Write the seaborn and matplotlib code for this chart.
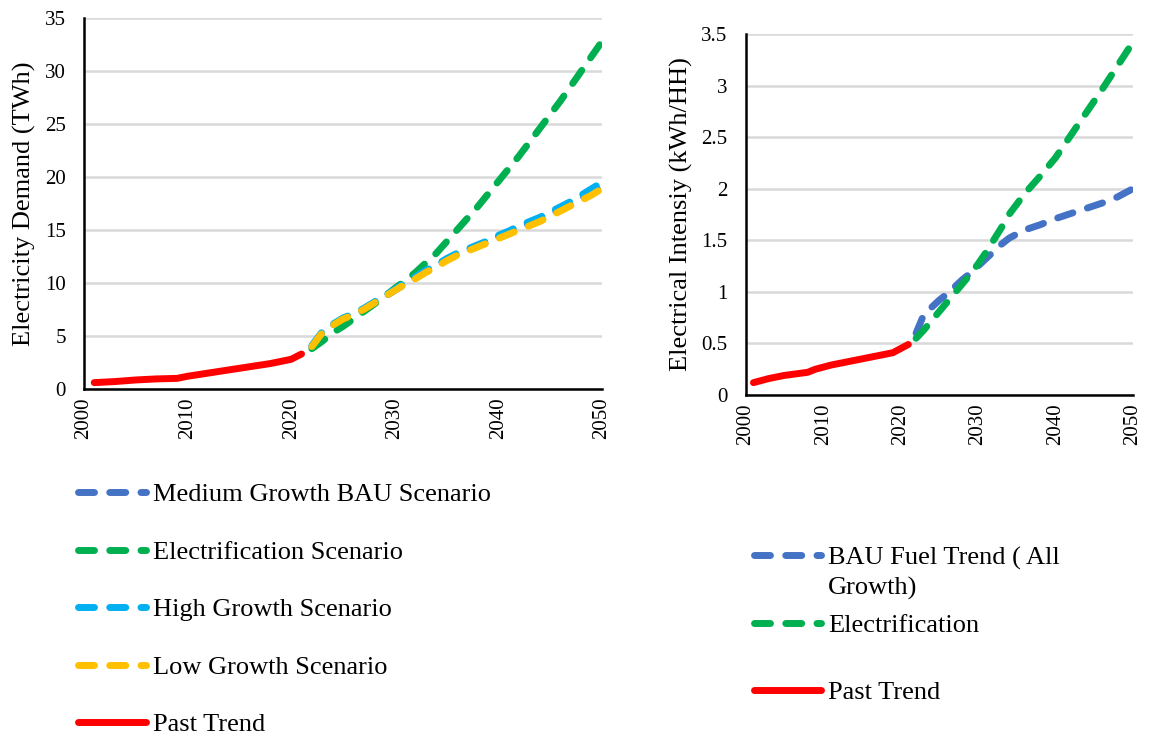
import numpy as np
import pandas as pd
import matplotlib
matplotlib.use("Agg")
import matplotlib.pyplot as plt
from matplotlib.legend_handler import HandlerLine2D
import seaborn as sns

# ---- Electricity demand (TWh) ----
past_years = [2001, 2003, 2005, 2007, 2009, 2010, 2012, 2014, 2016, 2018, 2020, 2021]
past_demand = [0.6, 0.7, 0.85, 0.95, 1.0, 1.2, 1.5, 1.8, 2.1, 2.4, 2.8, 3.3]

scen_years = [2022, 2023, 2024, 2025, 2026, 2027, 2028, 2029, 2030, 2031, 2032,
              2033, 2034, 2035, 2036, 2037, 2038, 2039, 2040, 2041, 2042, 2043,
              2044, 2045, 2046, 2047, 2048, 2049, 2050]
medium_bau = [4.0, 5.3, 6.0, 6.6, 7.0, 7.5, 8.1, 8.7, 9.3, 9.9, 10.5, 11.1,
              11.6, 12.2, 12.7, 13.1, 13.5, 13.9, 14.4, 14.8, 15.2, 15.6,
              16.0, 16.5, 17.0, 17.5, 18.0, 18.5, 19.1]
electrification = [3.8, 4.5, 5.3, 5.9, 6.6, 7.3, 8.0, 8.7, 9.5, 10.2, 11.0,
                   11.9, 12.8, 13.9, 15.0, 16.1, 17.2, 18.4, 19.6, 20.8, 22.0,
                   23.3, 24.6, 25.9, 27.2, 28.6, 30.0, 31.4, 32.8]
high_growth = [4.1, 5.4, 6.1, 6.7, 7.1, 7.6, 8.2, 8.8, 9.4, 10.0, 10.6, 11.2,
               11.7, 12.3, 12.8, 13.2, 13.6, 14.0, 14.5, 14.9, 15.4, 15.8,
               16.2, 16.7, 17.2, 17.7, 18.3, 18.9, 19.5]
low_growth = [4.0, 5.3, 6.0, 6.6, 7.0, 7.5, 8.1, 8.7, 9.3, 9.9, 10.4, 11.0,
              11.5, 12.1, 12.6, 13.0, 13.4, 13.8, 14.2, 14.6, 15.0, 15.4,
              15.8, 16.3, 16.8, 17.3, 17.8, 18.3, 18.9]

# ---- Electrical intensity (kWh/HH) ----
past_int_years = [2001, 2003, 2005, 2007, 2008, 2009, 2011, 2013, 2015, 2017, 2019, 2020, 2021]
past_intensity = [0.12, 0.16, 0.19, 0.21, 0.22, 0.25, 0.29, 0.32, 0.35, 0.38, 0.41, 0.45, 0.49]

int_years = [2022, 2023, 2024, 2025, 2026, 2027, 2028, 2029, 2030, 2031, 2032,
             2033, 2034, 2035, 2036, 2038, 2040, 2042, 2044, 2046, 2048, 2050]
bau_fuel = [0.6, 0.78, 0.85, 0.92, 0.98, 1.05, 1.12, 1.18, 1.25, 1.32, 1.39,
            1.46, 1.52, 1.56, 1.6, 1.65, 1.71, 1.76, 1.81, 1.86, 1.92, 2.0]
elec_intensity = [0.55, 0.63, 0.72, 0.81, 0.9, 0.99, 1.08, 1.17, 1.27, 1.38, 1.5,
                  1.62, 1.75, 1.85, 1.95, 2.12, 2.3, 2.52, 2.74, 2.96, 3.19, 3.42]

BLUE = "#4472C4"
GREEN = "#00B050"
CYAN = "#00B0F0"
YELLOW = "#FFC000"
RED = "#FF0000"

sns.set_theme(style="white")
plt.rcParams["font.family"] = ["Liberation Serif", "DejaVu Serif"]
plt.rcParams["text.color"] = "black"

LW = 5.0
DASH = (0, (2.3, 2.2))

fig = plt.figure(figsize=(11.49, 7.36), dpi=100)
ax1 = fig.add_axes([0.073, 0.4715, 0.451, 0.504])
ax2 = fig.add_axes([0.649, 0.4633, 0.337, 0.4905])


def dashed(ax, x, y, color, label):
    df = pd.DataFrame({"year": x, "value": y})
    sns.lineplot(data=df, x="year", y="value", ax=ax, color=color, linewidth=LW,
                 linestyle=DASH, dash_capstyle="round", label=label, legend=False)


def solid(ax, x, y, color, label):
    df = pd.DataFrame({"year": x, "value": y})
    sns.lineplot(data=df, x="year", y="value", ax=ax, color=color, linewidth=LW,
                 solid_capstyle="round", label=label, legend=False)


class HandlerFirstLine(HandlerLine2D):
    """Line handler that lifts the sample up to sit beside the first text line."""

    def __init__(self, lift, **kw):
        super().__init__(**kw)
        self.lift = lift

    def create_artists(self, legend, orig_handle, xdescent, ydescent, width,
                       height, fontsize, trans):
        artists = super().create_artists(legend, orig_handle, xdescent, ydescent,
                                         width, height, fontsize, trans)
        for a in artists:
            a.set_ydata(np.asarray(a.get_ydata(), dtype=float) + self.lift)
        return artists


dashed(ax1, scen_years, medium_bau, BLUE, "Medium Growth BAU Scenario")
dashed(ax1, scen_years, electrification, GREEN, "Electrification Scenario")
dashed(ax1, scen_years, high_growth, CYAN, "High Growth Scenario")
dashed(ax1, scen_years, low_growth, YELLOW, "Low Growth Scenario")
solid(ax1, past_years, past_demand, RED, "Past Trend")

dashed(ax2, int_years, bau_fuel, BLUE, "BAU Fuel Trend ( All\nGrowth)")
dashed(ax2, int_years, elec_intensity, GREEN, "Electrification")
solid(ax2, past_int_years, past_intensity, RED, "Past Trend")

for ax, ymax, ystep, ylabel in [(ax1, 35, 5, "Electricity Demand (TWh)"),
                                 (ax2, 3.5, 0.5, "Electrical Intensiy (kWh/HH)")]:
    ax.set_xlim(2000, 2050)
    ax.set_ylim(0, ymax)
    ax.set_xticks(range(2000, 2051, 10))
    yt = np.arange(0, ymax + ystep / 2, ystep)
    ax.set_yticks(yt)
    ax.set_yticklabels([f"{v:g}" for v in yt])
    ax.tick_params(axis="x", labelrotation=90, labelsize=15, length=0, pad=6,
                   labelcolor="black")
    ax.tick_params(axis="y", labelsize=15, length=0, pad=13, labelcolor="black")
    ax.set_xlabel("")
    ax.set_ylabel(ylabel, fontsize=19, labelpad=6, color="black")
    ax.grid(axis="y", color="#d9d9d9", linewidth=1.8)
    ax.grid(axis="x", visible=False)
    ax.set_axisbelow(True)
    for side in ["top", "right"]:
        ax.spines[side].set_visible(False)
    for side in ["left", "bottom"]:
        ax.spines[side].set_color("black")
        ax.spines[side].set_linewidth(1.8)
    ax.set_facecolor("white")

legend_kw = dict(frameon=False, fontsize=19, handlelength=2.54, handletextpad=0.28,
                 borderpad=0, borderaxespad=0, loc="upper left")

h1, l1 = ax1.get_legend_handles_labels()
fig.legend(h1, l1, bbox_to_anchor=(0.0683, 0.344), labelspacing=1.29, **legend_kw)

h2, l2 = ax2.get_legend_handles_labels()
leg2 = fig.legend(h2[:2], l2[:2], bbox_to_anchor=(0.6558, 0.257), labelspacing=0.5,
                  handler_map={h2[0]: HandlerFirstLine(lift=13.0)}, **legend_kw)
for t in leg2.get_texts():
    t.set_linespacing(1.4)
fig.legend(h2[2:], l2[2:], bbox_to_anchor=(0.6558, 0.075), **legend_kw)

fig.savefig("out.png", dpi=100, facecolor="white")
